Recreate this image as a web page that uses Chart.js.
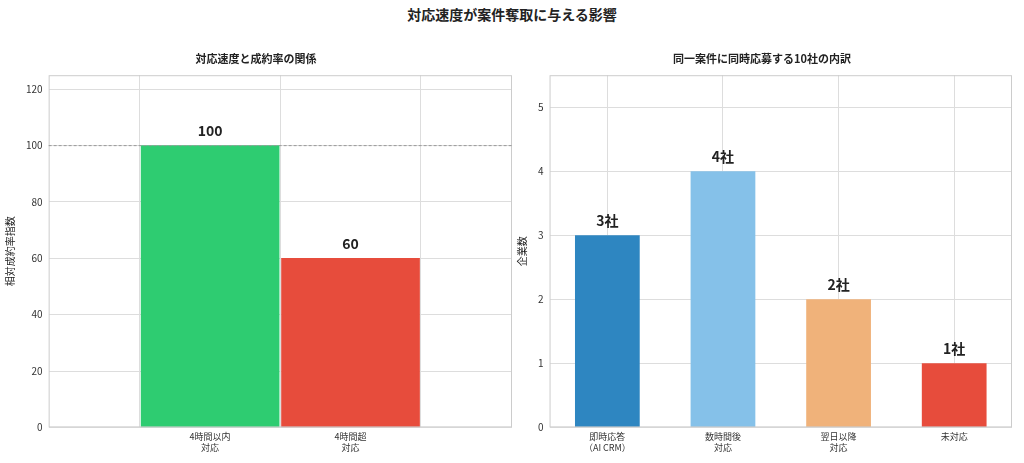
<!DOCTYPE html><html><head><meta charset="utf-8">
<script src="https://cdn.jsdelivr.net/npm/chart.js@4"></script>
<style>body{margin:0;width:1024px;height:463px;background:#fff;font-family:"Noto Sans CJK JP";position:relative;overflow:hidden}
#t{position:absolute;top:4px;left:0;width:1024px;text-align:center;font-weight:bold;font-size:14px;color:#222}
.c{position:absolute;top:0}</style></head><body>
<div id="t">対応速度が案件奪取に与える影響</div>
<div class="c" style="left:0;width:520px;height:463px"><canvas id="a"></canvas></div>
<div class="c" style="left:512px;width:512px;height:463px"><canvas id="b"></canvas></div>
<script>
const leftCats=[["4時間以内","対応"],["4時間超","対応"]];
const leftVals=[100,60];
const leftLabels=["100","60"];
const rightCats=[["即時応答","（AI CRM）"],["数時間後","対応"],["翌日以降","対応"],"未対応"];
const rightVals=[3,4,2,1];
const rightLabels=["3社","4社","2社","1社"];
const F='"Noto Sans CJK JP"';
const frame={id:'frame',afterDraw(c,a,o){const x=c.ctx,ar=c.chartArea;x.save();
 const ds=c.getDatasetMeta(0);x.font='bold 14px '+F;x.fillStyle='#222';x.textAlign='center';x.textBaseline='bottom';
 ds.data.forEach((e,i)=>x.fillText(o.labels[i],e.x,e.y-8));
 x.strokeStyle='#ccc';x.lineWidth=1;x.strokeRect(ar.left+.5,ar.top+.5,ar.width-1,ar.height-1);
 if(o.ref!=null){const y=c.scales.y.getPixelForValue(o.ref);x.setLineDash([3,2]);x.strokeStyle='#999';x.beginPath();x.moveTo(ar.left,y);x.lineTo(ar.right,y);x.stroke();}
 x.restore();}};
function yAxis(max,step,yt){return {min:0,max:max,afterBuildTicks:s=>{s.ticks=s.ticks.filter(t=>t.value<max)},
 ticks:{stepSize:step,font:{family:F,size:10},color:'#333',padding:6},grid:{color:'#ddd',drawTicks:false},border:{display:false},
 title:{display:true,text:yt,font:{family:F,size:10},color:'#222',padding:4}};}
const tks={font:{family:F,size:9},color:'#333',padding:4};
const plug=(title,labels,ref)=>({legend:{display:false},tooltip:{enabled:false},title:{display:true,text:title,font:{family:F,size:11,weight:'bold'},color:'#222',padding:{top:0,bottom:10}},frame:{labels,ref}});
new Chart(document.getElementById('a'),{type:'bar',data:{datasets:[{data:leftVals.map((v,i)=>({x:i,y:v})),backgroundColor:['#2ecc71','#e74c3c'],barThickness:138}]},
 options:{responsive:true,maintainAspectRatio:false,animation:false,layout:{padding:{top:52,left:0,right:8,bottom:6}},plugins:plug('対応速度と成約率の関係',leftLabels,100),
 scales:{x:{type:'linear',min:-0.325,max:1.325,afterBuildTicks:s=>{s.ticks=[{value:0},{value:1}]},grid:{color:'#ddd',drawTicks:false},border:{display:false},ticks:{...tks,callback:v=>leftCats[v]}},
 y:yAxis(125,20,'相対成約率指数')}},plugins:[frame]});
new Chart(document.getElementById('b'),{type:'bar',data:{labels:rightCats,datasets:[{data:rightVals,backgroundColor:['#2e86c1','#85c1e9','#f0b27a','#e74c3c'],barPercentage:0.56,categoryPercentage:1}]},
 options:{responsive:true,maintainAspectRatio:false,animation:false,layout:{padding:{top:52,left:0,right:12,bottom:6}},plugins:plug('同一案件に同時応募する10社の内訳',rightLabels,null),
 scales:{x:{grid:{offset:false,color:'#ddd',drawTicks:false},border:{display:false},ticks:tks},y:yAxis(5.5,1,'企業数')}},plugins:[frame]});
</script></body></html>
